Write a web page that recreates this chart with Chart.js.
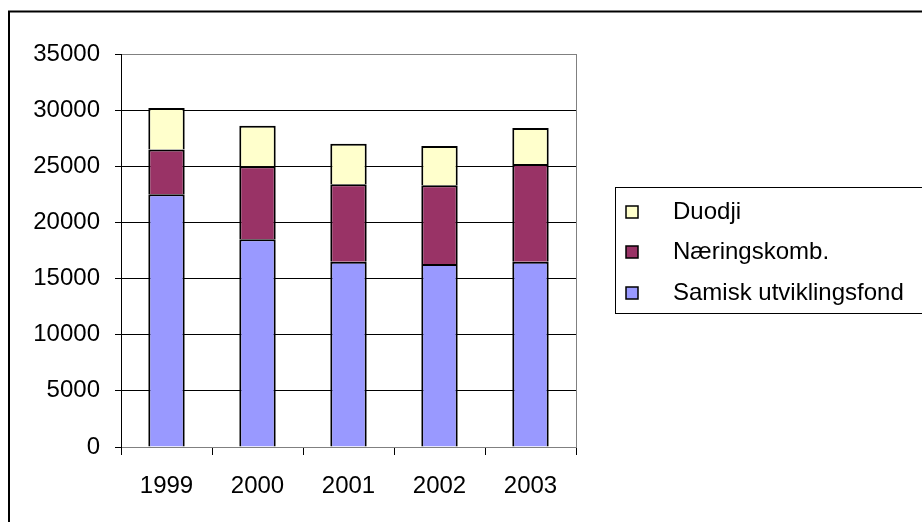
<!DOCTYPE html>
<html>
<head>
<meta charset="utf-8">
<script src="https://cdn.jsdelivr.net/npm/chart.js@4.4.0/dist/chart.umd.min.js"></script>
<style>
  html, body { margin: 0; padding: 0; background: #fff; }
  #wrap { width: 922px; height: 522px; }
</style>
</head>
<body>
<div id="wrap"><canvas id="demandChart" width="922" height="522"></canvas></div>
<script>
// categories + series
const years = ['1999', '2000', '2001', '2002', '2003'];
const samiskFond = [22500, 18500, 16500, 16300, 16500];
const naeringskomb = [4000, 6500, 6900, 7000, 8700];
const duodji = [3700, 3600, 3600, 3500, 3200];
const yTicks = [0, 5000, 10000, 15000, 20000, 25000, 30000, 35000];

const FONT = "'Liberation Sans', Arial, sans-serif";
const ctx = document.getElementById('demandChart').getContext('2d');

// white background + outer frame + gray plot border
const framePlugin = {
  id: 'frame',
  beforeDraw(chart) {
    const c = chart.ctx;
    c.save();
    c.fillStyle = '#fff';
    c.fillRect(0, 0, chart.width, chart.height);
    c.strokeStyle = '#000';
    c.lineWidth = 2;
    c.strokeRect(9, 11.5, 2000, 2000);
    c.restore();
  },
  beforeDatasetsDraw(chart) {
    const a = chart.chartArea;
    const c = chart.ctx;
    c.save();
    c.strokeStyle = '#808080';
    c.lineWidth = 1;
    c.beginPath();
    c.moveTo(Math.round(a.right) + 0.5, a.top);
    c.lineTo(Math.round(a.right) + 0.5, a.bottom);
    c.stroke();
    c.restore();
  }
};

// legend box on the right, drawn from the datasets (top series first)
const legendPlugin = {
  id: 'boxLegend',
  afterDraw(chart) {
    const c = chart.ctx;
    c.save();
    c.strokeStyle = '#000';
    c.lineWidth = 1;
    c.strokeRect(615.5, 187.5, 1000, 126);
    const ds = chart.data.datasets.slice().reverse();
    const rowY = [212, 252, 293];
    c.font = '24px ' + FONT;
    c.textBaseline = 'middle';
    ds.forEach((d, i) => {
      const y = rowY[i];
      c.fillStyle = d.backgroundColor;
      c.fillRect(626, y - 6, 12, 12);
      c.strokeStyle = '#000';
      c.lineWidth = 1.5;
      c.strokeRect(626, y - 6, 12, 12);
      c.fillStyle = '#000';
      c.fillText(d.label, 673, y);
    });
    c.restore();
  }
};

const data = {
  labels: years,
  datasets: [
    { label: 'Samisk utviklingsfond', data: samiskFond, backgroundColor: '#9999FF' },
    { label: 'Næringskomb.', data: naeringskomb, backgroundColor: '#993366' },
    { label: 'Duodji', data: duodji, backgroundColor: '#FFFFCC' }
  ].map(d => Object.assign(d, {
    borderColor: '#000',
    borderWidth: 2,
    barPercentage: 0.4,
    categoryPercentage: 1
  }))
};

const config = {
  type: 'bar',
  data: data,
  options: {
    responsive: false,
    animation: false,
    devicePixelRatio: 1,
    layout: { padding: { top: 54, right: 346, bottom: 0, left: 0 } },
    plugins: { legend: { display: false }, tooltip: { enabled: false } },
    scales: {
      x: {
        stacked: true,
        offset: true,
        grid: {
          offset: true,
          drawOnChartArea: false,
          drawTicks: true,
          tickLength: 8,
          tickColor: '#000',
          color: '#000'
        },
        border: { color: '#808080', width: 1 },
        ticks: { color: '#000', font: { family: FONT, size: 24 }, padding: 17 },
        afterFit(scale) { scale.height = 75; }
      },
      y: {
        stacked: true,
        min: 0,
        max: 35000,
        afterBuildTicks(scale) { scale.ticks = yTicks.map(v => ({ value: v })); },
        grid: {
          color: c => (c.tick && c.tick.value === 35000 ? '#808080' : '#000'),
          tickColor: '#000',
          tickLength: 6,
          lineWidth: 1
        },
        border: { color: '#000', width: 1 },
        ticks: {
          color: '#000',
          font: { family: FONT, size: 24 },
          padding: 15,
          callback: v => String(v)
        },
        afterFit(scale) { scale.width = 121; }
      }
    }
  },
  plugins: [framePlugin, legendPlugin]
};

const myChart = new Chart(ctx, config);
</script>
</body>
</html>
